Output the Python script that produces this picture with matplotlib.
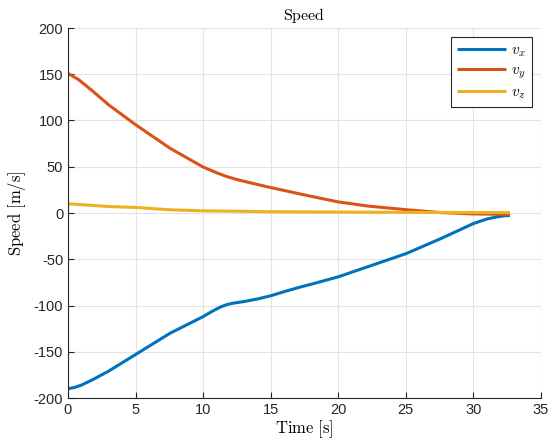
import matplotlib
matplotlib.use("Agg")
import matplotlib.pyplot as plt
import numpy as np

plt.rcParams['mathtext.fontset'] = 'cm'
plt.rcParams['font.family'] = ['Liberation Sans', 'DejaVu Sans']
plt.rcParams['axes.unicode_minus'] = False

# Data
t_vx = [0, 0.5, 1.0, 1.85, 3, 5, 7.55, 10, 10.7, 11.3, 11.8, 12.3, 13, 14, 15, 16, 17.2, 18, 20, 22.2, 25, 27.6, 30, 31.0, 31.8, 32.3, 32.7]
vx = [-190, -188.5, -186, -180, -171, -153, -130, -112, -106, -101.5, -98.8, -97.3, -95.8, -93, -89.5, -85, -80, -77, -69, -58, -44, -27.6, -11.4, -6.5, -4.0, -3.0, -2.7]

t_vy = [0, 0.8, 1.85, 3, 5, 7.55, 10, 11.0, 11.7, 12.5, 13.3, 14.2, 15, 17.2, 18, 20, 22.2, 25, 27.6, 30, 32.7]
vy = [151, 144, 131.5, 117, 95.5, 70, 49.7, 43.5, 39.6, 36.2, 33.3, 30.2, 27.5, 20.5, 18, 12, 7.5, 3.6, 0.4, -1.0, -1.5]

t_vz = [0, 1, 3, 5, 6, 7.55, 10, 12, 15, 20, 25, 30, 32.7]
vz = [10, 9, 7, 6, 5, 3.5, 2.3, 2, 1.4, 1.0, 0.7, 0.5, 0.5]

labels = [r'$v_x$', r'$v_y$', r'$v_z$']
colors = ['#0072BD', '#D95319', '#EDB120']

xticks = [0, 5, 10, 15, 20, 25, 30, 35]
yticks = [-200, -150, -100, -50, 0, 50, 100, 150, 200]

fig = plt.figure(figsize=(5.51, 4.44), dpi=100)
ax = fig.add_axes([68/551, 46/444, 473/551, 370/444])

for tt, vv, lab, c in zip([t_vx, t_vy, t_vz], [vx, vy, vz], labels, colors):
    ax.plot(tt, vv, color=c, lw=2.2, label=lab, solid_capstyle='butt', solid_joinstyle='round')

ax.set_xlim(0, 35)
ax.set_ylim(-200, 200)
ax.set_xticks(xticks)
ax.set_yticks(yticks)
ax.grid(True, color='#e3e3e3', lw=0.8)
ax.set_axisbelow(True)
for s in ['top', 'right']:
    ax.spines[s].set_visible(False)
for s in ['left', 'bottom']:
    ax.spines[s].set_color('#262626')
    ax.spines[s].set_linewidth(0.8)
ax.tick_params(direction='in', length=4, width=0.8, colors='#262626', labelsize=10.5, labelcolor='#262626')

ax.set_title(r'$\mathrm{Speed}$', fontsize=11.5, pad=6)
ax.set_xlabel(r'$\mathrm{Time\ [s]}$', fontsize=12, labelpad=1)
ax.set_ylabel(r'$\mathrm{Speed\ [m/s]}$', fontsize=12, labelpad=4)

leg = ax.legend(loc='upper right', fontsize=11, frameon=True, fancybox=False,
                edgecolor='#262626', framealpha=1, handlelength=3.2,
                borderaxespad=0.6, labelspacing=0.3, handletextpad=0.3)
leg.get_frame().set_linewidth(0.8)

fig.savefig('out.png', dpi=100)
